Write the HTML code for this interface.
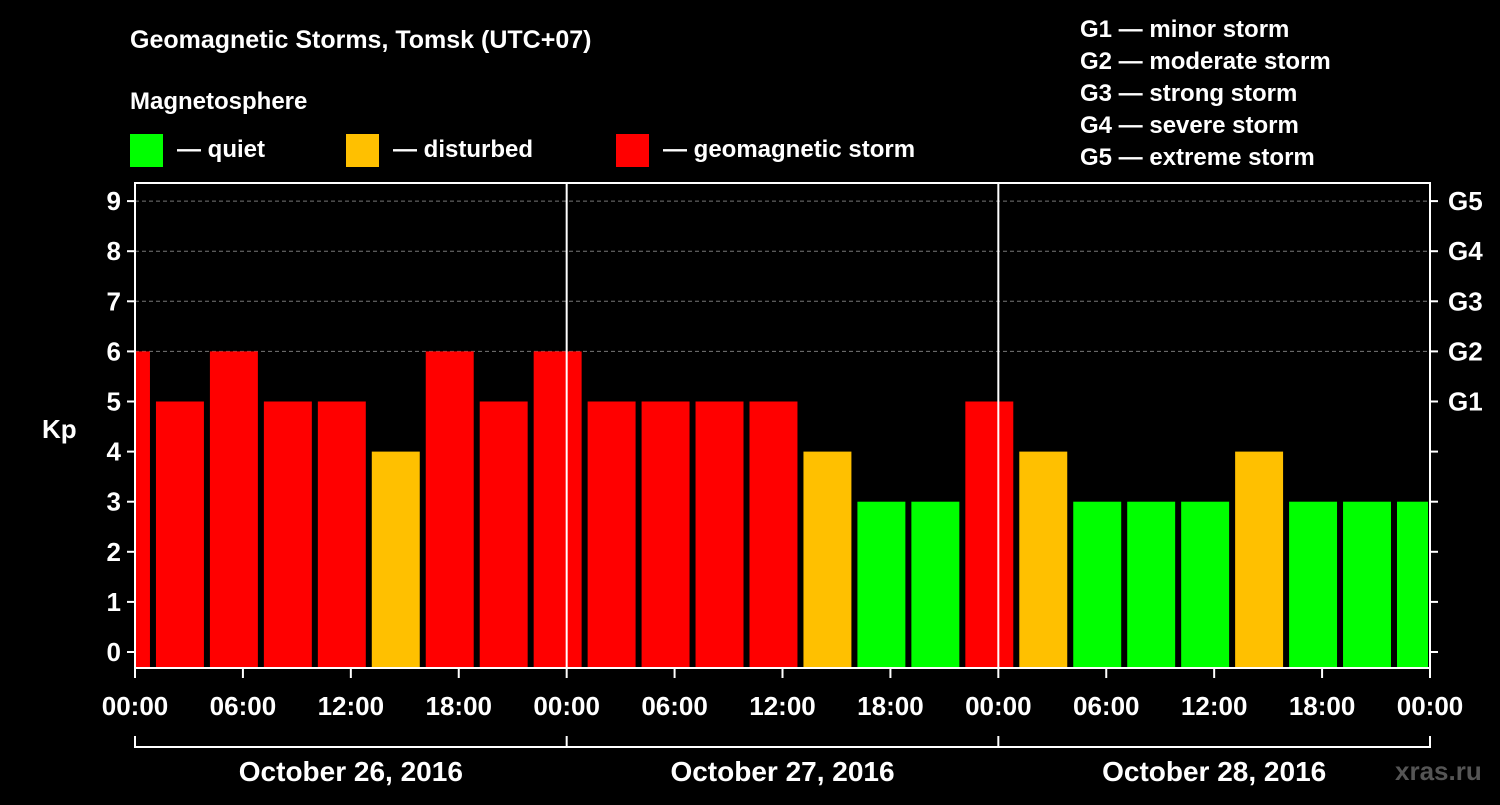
<!DOCTYPE html>
<html><head><meta charset="utf-8"><style>
body{margin:0;background:#000;width:1500px;height:800px;overflow:hidden;font-family:"Liberation Sans",sans-serif}
svg text{font-family:"Liberation Sans",sans-serif;font-weight:bold;fill:#fff}
</style></head><body>
<svg id="chart" width="1500" height="800" xmlns="http://www.w3.org/2000/svg">
<rect width="1500" height="800" fill="#000"/>
<text x="130" y="48" font-size="25">Geomagnetic Storms, Tomsk (UTC+07)</text>
<text x="130" y="109" font-size="24">Magnetosphere</text>
<g><rect x="130" y="134" width="33" height="33" fill="#00ff00"/><text x="177" y="157" font-size="24">— quiet</text></g>
<g><rect x="346" y="134" width="33" height="33" fill="#ffc000"/><text x="393" y="157" font-size="24">— disturbed</text></g>
<g><rect x="616" y="134" width="33" height="33" fill="#ff0000"/><text x="663" y="157" font-size="24">— geomagnetic storm</text></g>
<g font-size="24">
<text x="1080" y="37">G1 — minor storm</text>
<text x="1080" y="69">G2 — moderate storm</text>
<text x="1080" y="101">G3 — strong storm</text>
<text x="1080" y="133">G4 — severe storm</text>
<text x="1080" y="165">G5 — extreme storm</text>
</g>
<text x="42" y="438" font-size="26">Kp</text>
<g id="grid"></g><g id="bars"></g><g id="axes"></g>
<text x="1395" y="780" font-size="26" fill="#555" style="fill:#555">xras.ru</text>
</svg>
<script>
const kpValues=[6,5,6,5,5,4,6,5,6,5,5,5,5,4,3,3,5,4,3,3,3,4,3,3,3];
const yTicks=[0,1,2,3,4,5,6,7,8,9];
const gLabels=["","","","","","G1","G2","G3","G4","G5"];
const xTickLabels=["00:00","06:00","12:00","18:00","00:00","06:00","12:00","18:00","00:00","06:00","12:00","18:00","00:00"];
const dayLabels=["October 26, 2016","October 27, 2016","October 28, 2016"];
const X0=135,X1=1430,HOURS=72,PXH=(X1-X0)/HOURS;
const firstBarStartHour=-(33/PXH)+0; // first bar begins before chart start
const x=h=>X0+h*PXH;
const y=v=>652-v*50.1;
const NS="http://www.w3.org/2000/svg";
function mk(p,t,a){const e=document.createElementNS(NS,t);for(const k in a)e.setAttribute(k,a[k]);p.appendChild(e);return e;}
const grid=document.getElementById('grid'),bars=document.getElementById('bars'),axes=document.getElementById('axes');
const TOP=183,BOT=668;
yTicks.forEach(v=>{if(v>=6){const l=mk(grid,'line',{x1:X0,x2:X1,y1:y(v),y2:y(v),stroke:'#777','stroke-dasharray':'4,3'});

}});
const colorOf=v=>v>=5?'#ff0000':v>=4?'#ffc000':'#00ff00';
const startH=-(102-135)/-PXH*-1; // hour of first bar start
kpValues.forEach((v,i)=>{
 let h0=(102-135)/PXH+i*3;
 let xa=x(h0),xb=x(h0+3)-6;
 xa=Math.max(xa,X0+1);xb=Math.min(xb,X1-2);
 const r=mk(bars,'rect',{x:xa,y:y(v),width:xb-xa,height:BOT-y(v),fill:colorOf(v)});
 
 
});
mk(axes,'rect',{x:X0,y:TOP,width:X1-X0,height:BOT-TOP,fill:'none',stroke:'#fff','stroke-width':2});
[24,48].forEach(h=>mk(axes,'line',{x1:x(h),x2:x(h),y1:TOP,y2:BOT,stroke:'#fff','stroke-width':2}));
yTicks.forEach((v,i)=>{
 mk(axes,'line',{x1:X0-8,x2:X0,y1:y(v),y2:y(v),stroke:'#fff','stroke-width':2});
 mk(axes,'line',{x1:X1,x2:X1+8,y1:y(v),y2:y(v),stroke:'#fff','stroke-width':2});
 const t=mk(axes,'text',{x:X0-14,y:y(v)+9,'text-anchor':'end','font-size':26});t.textContent=v;
 
 
 if(gLabels[i]){const g=mk(axes,'text',{x:X1+18,y:y(v)+9,'font-size':26});g.textContent=gLabels[i];
 
 }
});
xTickLabels.forEach((s,i)=>{
 const h=i*6;
 mk(axes,'line',{x1:x(h),x2:x(h),y1:BOT,y2:BOT+10,stroke:'#fff','stroke-width':2});
 const t=mk(axes,'text',{x:x(h),y:715,'text-anchor':'middle','font-size':26});t.textContent=s;
 
 
});
mk(axes,'line',{x1:X0,x2:X1,y1:747,y2:747,stroke:'#fff','stroke-width':2});
[0,24,48,72].forEach(h=>mk(axes,'line',{x1:x(h),x2:x(h),y1:736,y2:748,stroke:'#fff','stroke-width':2}));
dayLabels.forEach((s,i)=>{const t=mk(axes,'text',{x:x(i*24+12),y:781,'text-anchor':'middle','font-size':28});t.textContent=s;
 
 });
</script>
</body></html>
